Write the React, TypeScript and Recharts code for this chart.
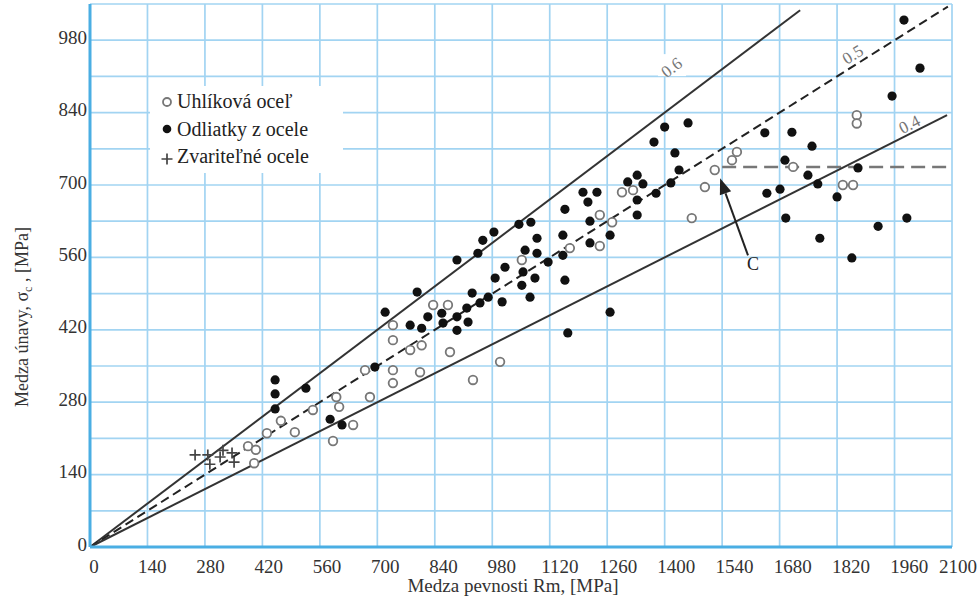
import { ScatterChart, Scatter, XAxis, YAxis, CartesianGrid, ReferenceLine, ReferenceDot, Legend } from 'recharts';

const serif = '"Liberation Serif", "Times New Roman", serif';

const xTicks = [0, 140, 280, 420, 560, 700, 840, 980, 1120, 1260, 1400, 1540, 1680, 1820, 1960, 2100];
const yTicks = [0, 70, 140, 210, 280, 350, 420, 490, 560, 630, 700, 770, 840, 910, 980, 1050];

// [Rm, sigma_c] in MPa
const carbonSteel = [
  [385, 195], [404, 188], [400, 162], [431, 220], [465, 244], [499, 222], [543, 265], [600, 290],
  [607, 271], [592, 205], [641, 236], [670, 342], [682, 290], [738, 429], [738, 400], [738, 342],
  [738, 317], [780, 381], [808, 390], [804, 338], [836, 468], [872, 468], [877, 377], [933, 323],
  [999, 358], [1052, 555], [1169, 578], [1242, 642], [1272, 628], [1242, 582], [1296, 686], [1323, 690],
  [1466, 636], [1498, 696], [1522, 729], [1564, 748], [1576, 764], [1713, 735], [1834, 700], [1859, 700],
  [1868, 835], [1868, 819],
];

const castSteel = [
  [451, 323], [451, 296], [451, 267], [526, 307], [585, 247], [614, 236], [694, 348], [719, 454],
  [797, 493], [780, 429], [808, 423], [823, 445], [857, 452], [860, 433], [894, 445], [894, 419],
  [918, 462], [921, 435], [931, 491], [950, 472], [970, 483], [894, 555], [945, 568], [957, 593],
  [984, 609], [1045, 624], [1074, 628], [1157, 653], [1201, 686], [1235, 686], [1213, 667], [1218, 630],
  [1267, 603], [1218, 588], [1089, 597], [1060, 574], [1089, 568], [1011, 541], [987, 520], [1084, 520],
  [1052, 506], [1055, 532], [1116, 551], [1152, 603], [1152, 564], [1157, 516], [1072, 483], [1004, 474],
  [1267, 454], [1164, 414], [1310, 706], [1333, 719], [1347, 702], [1333, 671], [1333, 642], [1400, 812],
  [1457, 820], [1374, 783], [1425, 762], [1435, 729], [1415, 704], [1379, 684], [1644, 801], [1710, 802],
  [1759, 775], [1693, 748], [1749, 719], [1773, 702], [1649, 684], [1681, 692], [1695, 636], [1778, 597],
  [1820, 677], [1871, 733], [1856, 559], [1920, 620], [1990, 636], [1954, 872], [1983, 1019], [2022, 926],
];

const weldSteel = [
  [256, 178], [287, 178], [292, 160], [317, 174], [324, 187], [346, 182], [351, 164],
];

// sigma_c / Rm ratio lines, where each one stops, and where its label sits
const ratios = [0.6, 0.5, 0.4];
const ratioEnds = [1730, 2090, 2088];
const ratioLabelX = [1418, 1859, 1997];
const ratioLabelY = [926, 951, 816];

const enduranceLimit = 735;
const enduranceFrom = 1540;

const pointC = { from: [1603, 564], to: [1535, 713], label: [1615, 548] };

const toPoints = (arr: number[][]) => arr.map(([x, y]) => ({ x, y }));

const OpenDot = (p: any) => (
  <circle cx={p.cx} cy={p.cy} r={4.3} fill="#fff" stroke="#777" strokeWidth={1.8} />
);
const FilledDot = (p: any) => <circle cx={p.cx} cy={p.cy} r={4.6} fill="#111" />;
const Cross = (p: any) => (
  <path d={`M${p.cx - 5.5},${p.cy}h11M${p.cx},${p.cy - 5.5}v11`} stroke="#444" strokeWidth={1.7} />
);

// labels drift a little right of their grid lines; keep the last one on the page
const XTick = ({ x, y, payload }: any) => (
  <text
    x={Math.min(x + 4 + payload.value * 0.0055, 958)}
    y={y + 26}
    textAnchor="middle"
    fontFamily={serif}
    fontSize={19}
    fill="#333"
  >
    {payload.value}
  </text>
);

const YTick = ({ x, y, payload }: any) => {
  if (payload.value % 140 !== 0 || payload.value > 980) return <g />;
  return (
    <text x={x - 3} y={y + 3.5} textAnchor="end" fontFamily={serif} fontSize={19} fill="#333">
      {payload.value}
    </text>
  );
};

const ratioAngles = [-37, -32, -27];

const RatioLabel = (i: number) => (p: any) => (
  <g>
    {i === 0 && <rect x={p.cx - 14} y={p.cy - 14} width={28} height={22} fill="#fff" />}
    <text
      x={p.cx}
      y={p.cy + 5}
      transform={`rotate(${ratioAngles[i]} ${p.cx} ${p.cy})`}
      textAnchor="middle"
      fontFamily={serif}
      fontSize={17}
      fill="#777"
    >
      {ratios[i]}
    </text>
  </g>
);

const Arrow = (p: any) => {
  const { x1, y1, x2, y2 } = p;
  const ang = Math.atan2(y2 - y1, x2 - x1);
  const len = 16;
  const w = 6;
  const bx = x2 - len * Math.cos(ang);
  const by = y2 - len * Math.sin(ang);
  const nx = -Math.sin(ang) * w;
  const ny = Math.cos(ang) * w;
  return (
    <g>
      <line x1={x1} y1={y1} x2={bx} y2={by} stroke="#222" strokeWidth={2} />
      <polygon points={`${x2},${y2} ${bx + nx},${by + ny} ${bx - nx},${by - ny}`} fill="#222" />
    </g>
  );
};

const legendItems = [
  { name: 'Uhlíková oceľ', marker: 'open' },
  { name: 'Odliatky z ocele', marker: 'filled' },
  { name: 'Zvariteľné ocele', marker: 'cross' },
];

const renderLegend = () => (
  <div style={{ background: '#fff', fontFamily: serif, fontSize: 20, color: '#222', padding: '2px 0' }}>
    {legendItems.map((it) => (
      <div key={it.name} style={{ display: 'flex', alignItems: 'center', height: 27.5 }}>
        <svg width={16} height={16} style={{ marginLeft: 9, marginRight: 2 }}>
          {it.marker === 'open' && <circle cx={8} cy={8} r={4} fill="#fff" stroke="#777" strokeWidth={1.8} />}
          {it.marker === 'filled' && <circle cx={8} cy={8} r={4.3} fill="#111" />}
          {it.marker === 'cross' && <path d="M2.5,10h11M8,4.5v11" stroke="#444" strokeWidth={1.7} />}
        </svg>
        <span>{it.name}</span>
      </div>
    ))}
  </div>
);

export default function App() {
  return (
    <div style={{ position: 'absolute', left: 0, top: 0, width: 980, height: 600, background: '#fff' }}>
      <ScatterChart width={980} height={600} margin={{ top: 4, right: 28, bottom: 0, left: 30 }}>
        <CartesianGrid stroke="#a2d4f2" strokeWidth={1.7} />
        <XAxis
          type="number"
          dataKey="x"
          domain={[0, 2100]}
          ticks={xTicks}
          interval={0}
          tick={<XTick />}
          tickSize={0}
          tickMargin={0}
          tickLine={false}
          height={53}
          axisLine={{ stroke: '#4aaee3', strokeWidth: 3 }}
          label={{
            content: () => (
              <text x={513} y={592} textAnchor="middle" fontFamily={serif} fontSize={19} fill="#333">
                Medza pevnosti Rm, [MPa]
              </text>
            ),
          }}
        />
        <YAxis
          type="number"
          dataKey="y"
          domain={[0, 1050]}
          ticks={yTicks}
          interval={0}
          tick={<YTick />}
          tickSize={0}
          tickMargin={0}
          tickLine={false}
          width={60}
          axisLine={{ stroke: '#4aaee3', strokeWidth: 3 }}
          label={{
            content: () => (
              <text
                x={28}
                y={317}
                transform="rotate(-90 28 317)"
                textAnchor="middle"
                fontFamily={serif}
                fontSize={18}
                fill="#333"
              >
                Medza únavy, σ<tspan fontSize={12} dy={4}>c</tspan>
                <tspan dy={-4}> ,  [MPa]</tspan>
              </text>
            ),
          }}
        />
        <Legend
          content={renderLegend}
          layout="vertical"
          align="center"
          verticalAlign="middle"
          wrapperStyle={{ left: 150, top: 86, width: 193 }}
        />

        <ReferenceLine
          segment={[{ x: enduranceFrom, y: enduranceLimit }, { x: 2100, y: enduranceLimit }]}
          stroke="#777"
          strokeWidth={2.5}
          strokeDasharray="14 7"
        />
        {ratios.map((r, i) => (
          <ReferenceDot
            key={r}
            x={ratioLabelX[i]}
            y={ratioLabelY[i]}
            r={0}
            shape={RatioLabel(i)}
          />
        ))}
        <ReferenceLine
          segment={[{ x: 0, y: 0 }, { x: ratioEnds[0], y: ratios[0] * ratioEnds[0] }]}
          stroke="#333"
          strokeWidth={2}
        />
        <ReferenceLine
          segment={[{ x: 0, y: 0 }, { x: ratioEnds[1], y: ratios[1] * ratioEnds[1] }]}
          stroke="#222"
          strokeWidth={2}
          strokeDasharray="9 5"
        />
        <ReferenceLine
          segment={[{ x: 0, y: 0 }, { x: ratioEnds[2], y: ratios[2] * ratioEnds[2] }]}
          stroke="#333"
          strokeWidth={2}
        />

        <Scatter name="Uhlíková oceľ" data={toPoints(carbonSteel)} shape={OpenDot} isAnimationActive={false} />
        <Scatter name="Odliatky z ocele" data={toPoints(castSteel)} shape={FilledDot} isAnimationActive={false} />
        <Scatter name="Zvariteľné ocele" data={toPoints(weldSteel)} shape={Cross} isAnimationActive={false} />

        <ReferenceLine
          segment={[{ x: pointC.from[0], y: pointC.from[1] }, { x: pointC.to[0], y: pointC.to[1] }]}
          shape={Arrow}
        />
        <ReferenceDot
          x={pointC.label[0]}
          y={pointC.label[1]}
          r={0}
          shape={(p: any) => (
            <text x={p.cx} y={p.cy + 6} textAnchor="middle" fontFamily={serif} fontSize={18} fill="#222">
              C
            </text>
          )}
        />
      </ScatterChart>
    </div>
  );
}
